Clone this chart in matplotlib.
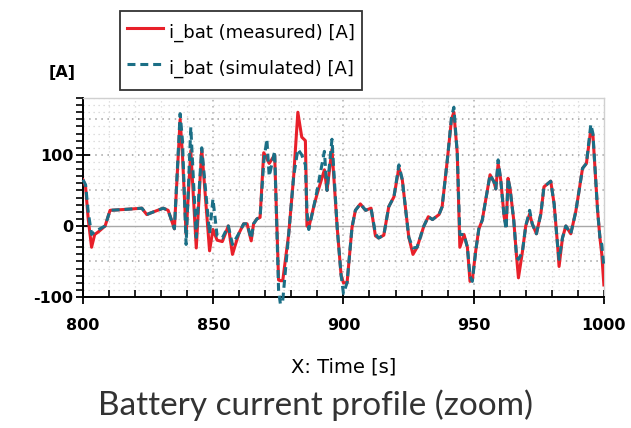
import numpy as np
import matplotlib
matplotlib.use('Agg')
import matplotlib.pyplot as plt
from matplotlib.ticker import MultipleLocator

plt.rcParams['axes.unicode_minus'] = False

# time [s], measured current [A], simulated current [A]
t = [800.0, 801.0, 802.0, 803.3, 804.5, 806.0, 808.5, 810.4, 815.0, 819.0,
     822.6, 824.5, 825.8, 830.8, 832.7, 835.1, 837.3, 838.2, 839.6, 841.4,
     843.5, 845.6, 848.6, 849.9, 851.5, 853.5, 855.8, 857.4, 859.8, 861.7,
     863.0, 864.6, 865.5, 866.8, 868.0, 869.4, 870.6, 871.5, 873.6, 875.1,
     875.8, 876.7, 879.0, 880.9, 882.5, 884.0, 885.4, 886.0, 886.7, 888.6,
     889.9, 892.7, 893.7, 895.6, 897.6, 899.1, 900.0, 901.4, 903.3, 904.6,
     906.5, 908.5, 910.6, 912.3, 913.5, 915.5, 917.4, 919.4, 921.3, 922.6,
     925.1, 926.7, 928.3, 930.9, 932.6, 934.2, 936.7, 937.9, 939.9, 941.5,
     942.4, 943.7, 944.7, 946.3, 947.6, 948.6, 949.5, 950.8, 952.0, 953.3,
     954.6, 956.3, 957.8, 958.5, 959.4, 960.4, 961.7, 962.5, 963.2, 964.0,
     965.4, 966.5, 967.2, 968.7, 970.0, 971.5, 972.5, 974.1, 975.8, 977.0,
     979.6, 980.9, 982.2, 982.8, 984.1, 985.4, 987.3, 989.2, 990.5, 991.8,
     993.3, 995.0, 995.8, 997.6, 998.5, 999.2, 1000.0]

i_meas = [65, 55, 10, -30, -12, -8, 0, 22, 23, 24,
          25, 16, 18, 25, 22, -4, 150, 100, -12, 106,
          -31, 108, -35, -5, -20, -22, 0, -40, -11, 3,
          3, -21, 3, 10, 12, 103, 95, 88, 100, -76,
          -77, -77, -11, 70, 160, 125, 120, 0, -2, 27,
          45, 79, 50, 108, -2, -69, -80, -80, -2, 22,
          31, 22, 25, -14, -17, -13, 27, 41, 82, 65,
          -16, -40, -30, 0, 13, 9, 16, 27, 93, 150,
          160, 103, -30, -12, -30, -78, -75, -35, -4, 8,
          36, 72, 62, 52, 88, 65, 13, 0, 67, 52,
          8, -44, -73, -37, 0, 17, 3, -11, 17, 55,
          63, 31, -26, -57, -17, 0, -11, 20, 50, 81,
          88, 136, 128, 21, -17, -40, -83]

i_sim = [65, 58, 20, -12, -8, -5, 0, 22, 23, 24,
         25, 16, 18, 25, 22, -4, 158, 120, -26, 139,
         -16, 110, -11, 38, -14, -17, 0, -26, -11, 3,
         3, -18, 3, 10, 12, 90, 122, 70, 105, -90,
         -110, -105, -11, 70, 108, 100, 86, 20, -5, 27,
         50, 105, 50, 122, -2, -69, -95, -80, -2, 22,
         31, 22, 25, -11, -17, -13, 27, 41, 86, 65,
         -16, -31, -30, 0, 13, 9, 16, 27, 93, 153,
         167, 103, -12, -12, -30, -70, -78, -35, -4, 8,
         36, 72, 62, 52, 93, 65, 13, -5, 67, 52,
         8, -44, -47, -37, 0, 22, 3, -11, 17, 55,
         63, 31, -26, -47, -17, 0, -11, 20, 50, 81,
         88, 143, 130, 21, -17, -26, -58]

red = '#e8202a'
teal = '#1b6f86'

fig = plt.figure(figsize=(6.31, 4.28), dpi=100)
ax = fig.add_axes([0.1315, 0.306, 0.8255, 0.465])

# grid
for y in range(-100, 181, 10):
    if y == 0:
        continue
    if y % 50 == 0:
        ax.axhline(y, color='#a0a0a0', lw=1.1, ls=(0, (1, 3)), zorder=0)
    else:
        ax.axhline(y, color='#d4d4d4', lw=0.9, ls=(0, (1, 3)), zorder=0)
for x in range(810, 1000, 10):
    if x % 50 == 0:
        ax.axvline(x, color='#b0b0b0', lw=1.1, ls=(0, (1, 3)), zorder=0)
    else:
        ax.axvline(x, color='#d8d8d8', lw=0.9, ls=(0, (1, 3)), zorder=0)
ax.axhline(0, color='#a8a8a8', lw=1.0, zorder=1)

l1, = ax.plot(t, i_meas, color=red, lw=2.2, label='i_bat (measured) [A]', zorder=3)
l2, = ax.plot(t, i_sim, color=teal, lw=2.2, ls=(0, (2.6, 1.6)),
              label='i_bat (simulated) [A]', zorder=4)
l2.set_clip_on(False)

ax.set_xlim(800, 1000)
ax.set_ylim(-100, 180)

ax.xaxis.set_major_locator(MultipleLocator(50))
ax.xaxis.set_minor_locator(MultipleLocator(10))
ax.yaxis.set_major_locator(MultipleLocator(100))
ax.yaxis.set_minor_locator(MultipleLocator(10))
ax.tick_params(axis='x', which='major', direction='inout', length=10, width=1.3,
               labelsize=11.5, pad=10)
ax.tick_params(axis='x', which='minor', direction='in', length=5, width=1.2)
ax.tick_params(axis='y', which='major', direction='inout', length=10, width=1.3,
               labelsize=11.5, pad=2)
ax.tick_params(axis='y', which='minor', direction='out', length=5, width=1.2)
for lab in ax.get_xticklabels() + ax.get_yticklabels():
    lab.set_fontweight('bold')

for s in ['top', 'right']:
    ax.spines[s].set_color('#d0d0d0')
    ax.spines[s].set_linewidth(1.0)
for s in ['left', 'bottom']:
    ax.spines[s].set_linewidth(1.4)

ax.set_xlabel('X: Time [s]', fontsize=14, labelpad=18)
fig.text(62 / 631, 1 - 72 / 428, '[A]', fontsize=11.5, fontweight='bold',
         ha='center', va='center')

leg = fig.legend(handles=[l1, l2], loc='upper left',
                 bbox_to_anchor=(120 / 631, 1 - 11 / 428),
                 fontsize=13, frameon=True, fancybox=False, handlelength=2.0,
                 handleheight=2.05, handletextpad=0.3, borderpad=0.4,
                 labelspacing=0.4, borderaxespad=0)
leg.get_frame().set_edgecolor('black')
leg.get_frame().set_linewidth(1.3)

fig.text(0.5, 1 - 405 / 428, 'Battery current profile (zoom)', fontsize=24,
         family='Lato', color='#333333', ha='center', va='center')

fig.savefig('out.png', dpi=100)
